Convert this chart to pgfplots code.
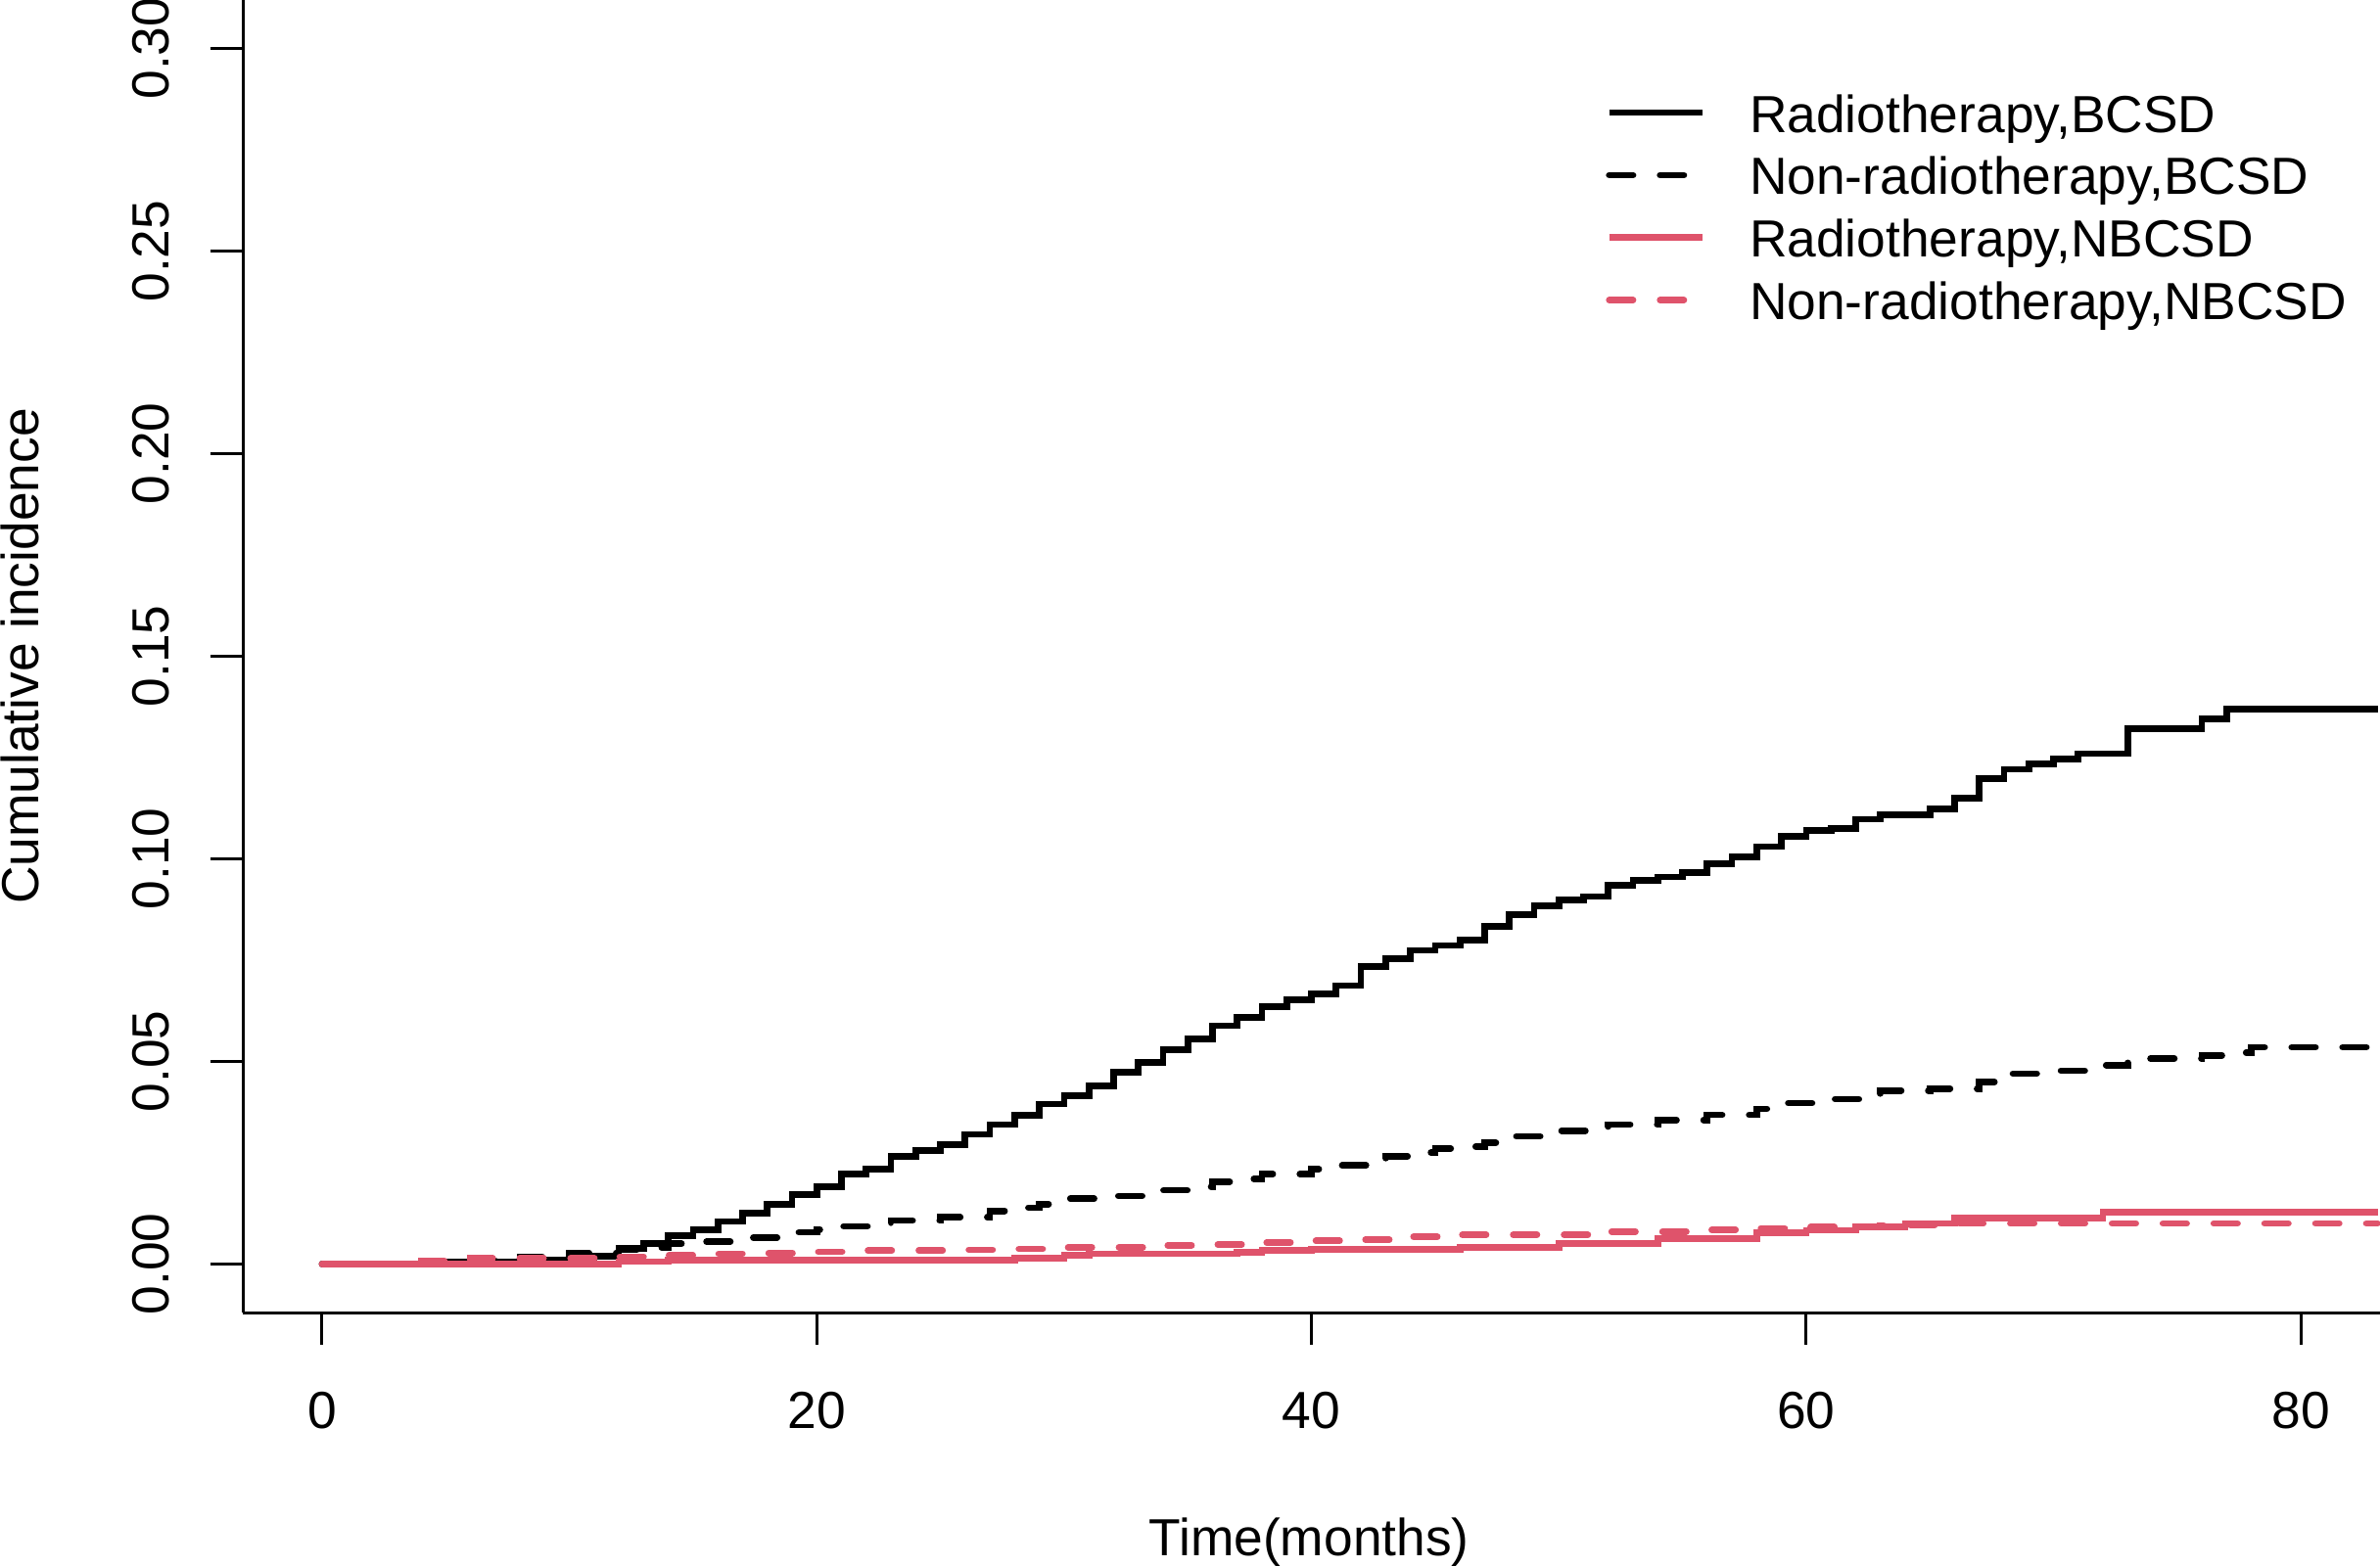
\documentclass[border=0pt]{standalone}
\usepackage{fontspec}
\setmainfont{Liberation Sans}
\usepackage{pgfplots}
\pgfplotsset{compat=1.18}
\definecolor{rred}{HTML}{DF536B}
\begin{document}
\fontsize{10.32pt}{12.4pt}\selectfont
\begin{tikzpicture}
\begin{axis}[
  scale only axis, width=422.4pt, height=259.5pt,
  xmin=-3.2, xmax=83.2, ymin=-0.012, ymax=0.312,
  axis x line*=bottom, axis y line*=left,
  axis line style={-, line width=0.6pt, black},
  tick align=outside, major tick length=6.4pt,
  tick style={line width=0.6pt, black},
  xtick={0,20,40,60,80}, xticklabels={0,20,40,60,80},
  ytick={0,0.05,0.1,0.15,0.2,0.25,0.3},
  yticklabels={0.00,0.05,0.10,0.15,0.20,0.25,0.30},
  xticklabel style={anchor=base, yshift=-16.55pt},
  yticklabel style={xshift=-8.3pt, rotate=90, anchor=base},
  xlabel={Time(months)}, ylabel={Cumulative incidence},
  every axis x label/.style={at={(axis description cs:0.4989,-0.185)}, anchor=base},
  every axis y label/.style={at={(axis description cs:-0.0956,0.5)}, rotate=90, anchor=base},
  legend style={draw=none, fill=none, inner sep=0pt, outer sep=0pt,
    at={(axis description cs:0.6378,0.9309)}, anchor=north west,
    row sep=3.7pt, column sep=8.7pt,
    nodes={inner sep=0pt, text height=8.2pt, text depth=0.46pt},
    font=\fontsize{10.32pt}{12.4pt}\selectfont},
  legend cell align=left,
  legend image code/.code={\draw[#1] plot coordinates {(0pt,0pt) (18.4pt,0pt)};},
]
\addplot[const plot, black, line width=1.3pt] coordinates {
(0,0) (5,0.0005) (8,0.0010) (10,0.0015) (11,0.0019) (12,0.0038) (13,0.0050)
(14,0.0069) (15,0.0085) (16,0.0105) (17,0.0125) (18,0.0147) (19,0.0172)
(20,0.0190) (21,0.0222) (22,0.0234) (23,0.0266) (24,0.0280) (25,0.0294)
(26,0.0320) (27,0.0344) (28,0.0367) (29,0.0395) (30,0.0415) (31,0.0439)
(32,0.0474) (33,0.0498) (34,0.0528) (35,0.0556) (36,0.0588) (37,0.0608)
(38,0.0636) (39,0.0652) (40,0.0666) (41,0.0687) (42,0.0734) (43,0.0753)
(44,0.0774) (45,0.0786) (46,0.0800) (47,0.0833) (48,0.0863) (49,0.0884)
(50,0.0899) (51,0.0907) (52,0.0934) (53,0.0946) (54,0.0955) (55,0.0967)
(56,0.0988) (57,0.1004) (58,0.1030) (59,0.1056) (60,0.1070) (61,0.1074)
(62,0.1098) (63,0.1108) (65,0.1124) (66,0.1150) (67,0.1198) (68,0.1221)
(69,0.1234) (70,0.1247) (71,0.1260) (73,0.1321) (76,0.1346) (77,0.1370)
(83.1,0.1370)};
\addlegendentry{Radiotherapy,BCSD}
\addplot[const plot, black, line width=1.3pt, line cap=round, dash pattern=on 4.7pt off 5.35pt] coordinates {
(0,0) (6,0.0008) (8,0.0018) (10,0.0027) (12,0.0035) (13,0.0040) (14,0.0050)
(15,0.0055) (17,0.0065) (19,0.0078) (20,0.0085) (21,0.0093) (23,0.0107)
(25,0.0115) (27,0.0131) (28,0.0139) (29,0.0148) (30,0.0161) (32,0.0168)
(34,0.0182) (35,0.0190) (36,0.0203) (37,0.0210) (38,0.0222) (40,0.0234)
(41,0.0243) (43,0.0266) (44,0.0275) (45,0.0285) (46,0.0290) (47,0.0299)
(48,0.0315) (50,0.0329) (52,0.0344) (54,0.0355) (56,0.0368) (58,0.0383)
(59,0.0397) (61,0.0407) (63,0.0428) (65,0.0433) (67,0.0449) (68,0.0470)
(70,0.0477) (72,0.0491) (73,0.0507) (76,0.0515) (77,0.0522) (78,0.0535)
(83.1,0.0535)};
\addlegendentry{Non-radiotherapy,BCSD}
\addplot[const plot, rred, line width=1.3pt] coordinates {
(0,0) (12,0.0006) (14,0.0010) (28,0.0015) (30,0.0021) (31,0.0025) (37,0.0029)
(38,0.0033) (40,0.0036) (46,0.0041) (50,0.0051) (54,0.0062) (58,0.0077)
(60,0.0083) (62,0.0092) (64,0.0100) (66,0.0114) (72,0.0128) (83.1,0.0128)};
\addlegendentry{Radiotherapy,NBCSD}
\addplot[const plot, rred, line width=1.3pt, line cap=round, dash pattern=on 4.7pt off 5.35pt] coordinates {
(0,0) (4,0.0008) (6,0.0014) (12,0.0018) (14,0.0022) (16,0.0025) (18,0.0027)
(20,0.0030) (22,0.0033) (26,0.0035) (28,0.0037) (30,0.0041) (34,0.0046)
(36,0.0048) (38,0.0053) (40,0.0057) (42,0.0060) (44,0.0067) (46,0.0072)
(52,0.0080) (56,0.0084) (58,0.0088) (60,0.0091) (63,0.0095) (66,0.0100)
(83.1,0.0100)};
\addlegendentry{Non-radiotherapy,NBCSD}
\coordinate (SW) at (rel axis cs:0,0);
\coordinate (NE) at (rel axis cs:1,1);
\end{axis}
\pgfresetboundingbox
\path[use as bounding box] (SW) ++(-48pt,-50.1pt) rectangle (NE);
\end{tikzpicture}
\end{document}
